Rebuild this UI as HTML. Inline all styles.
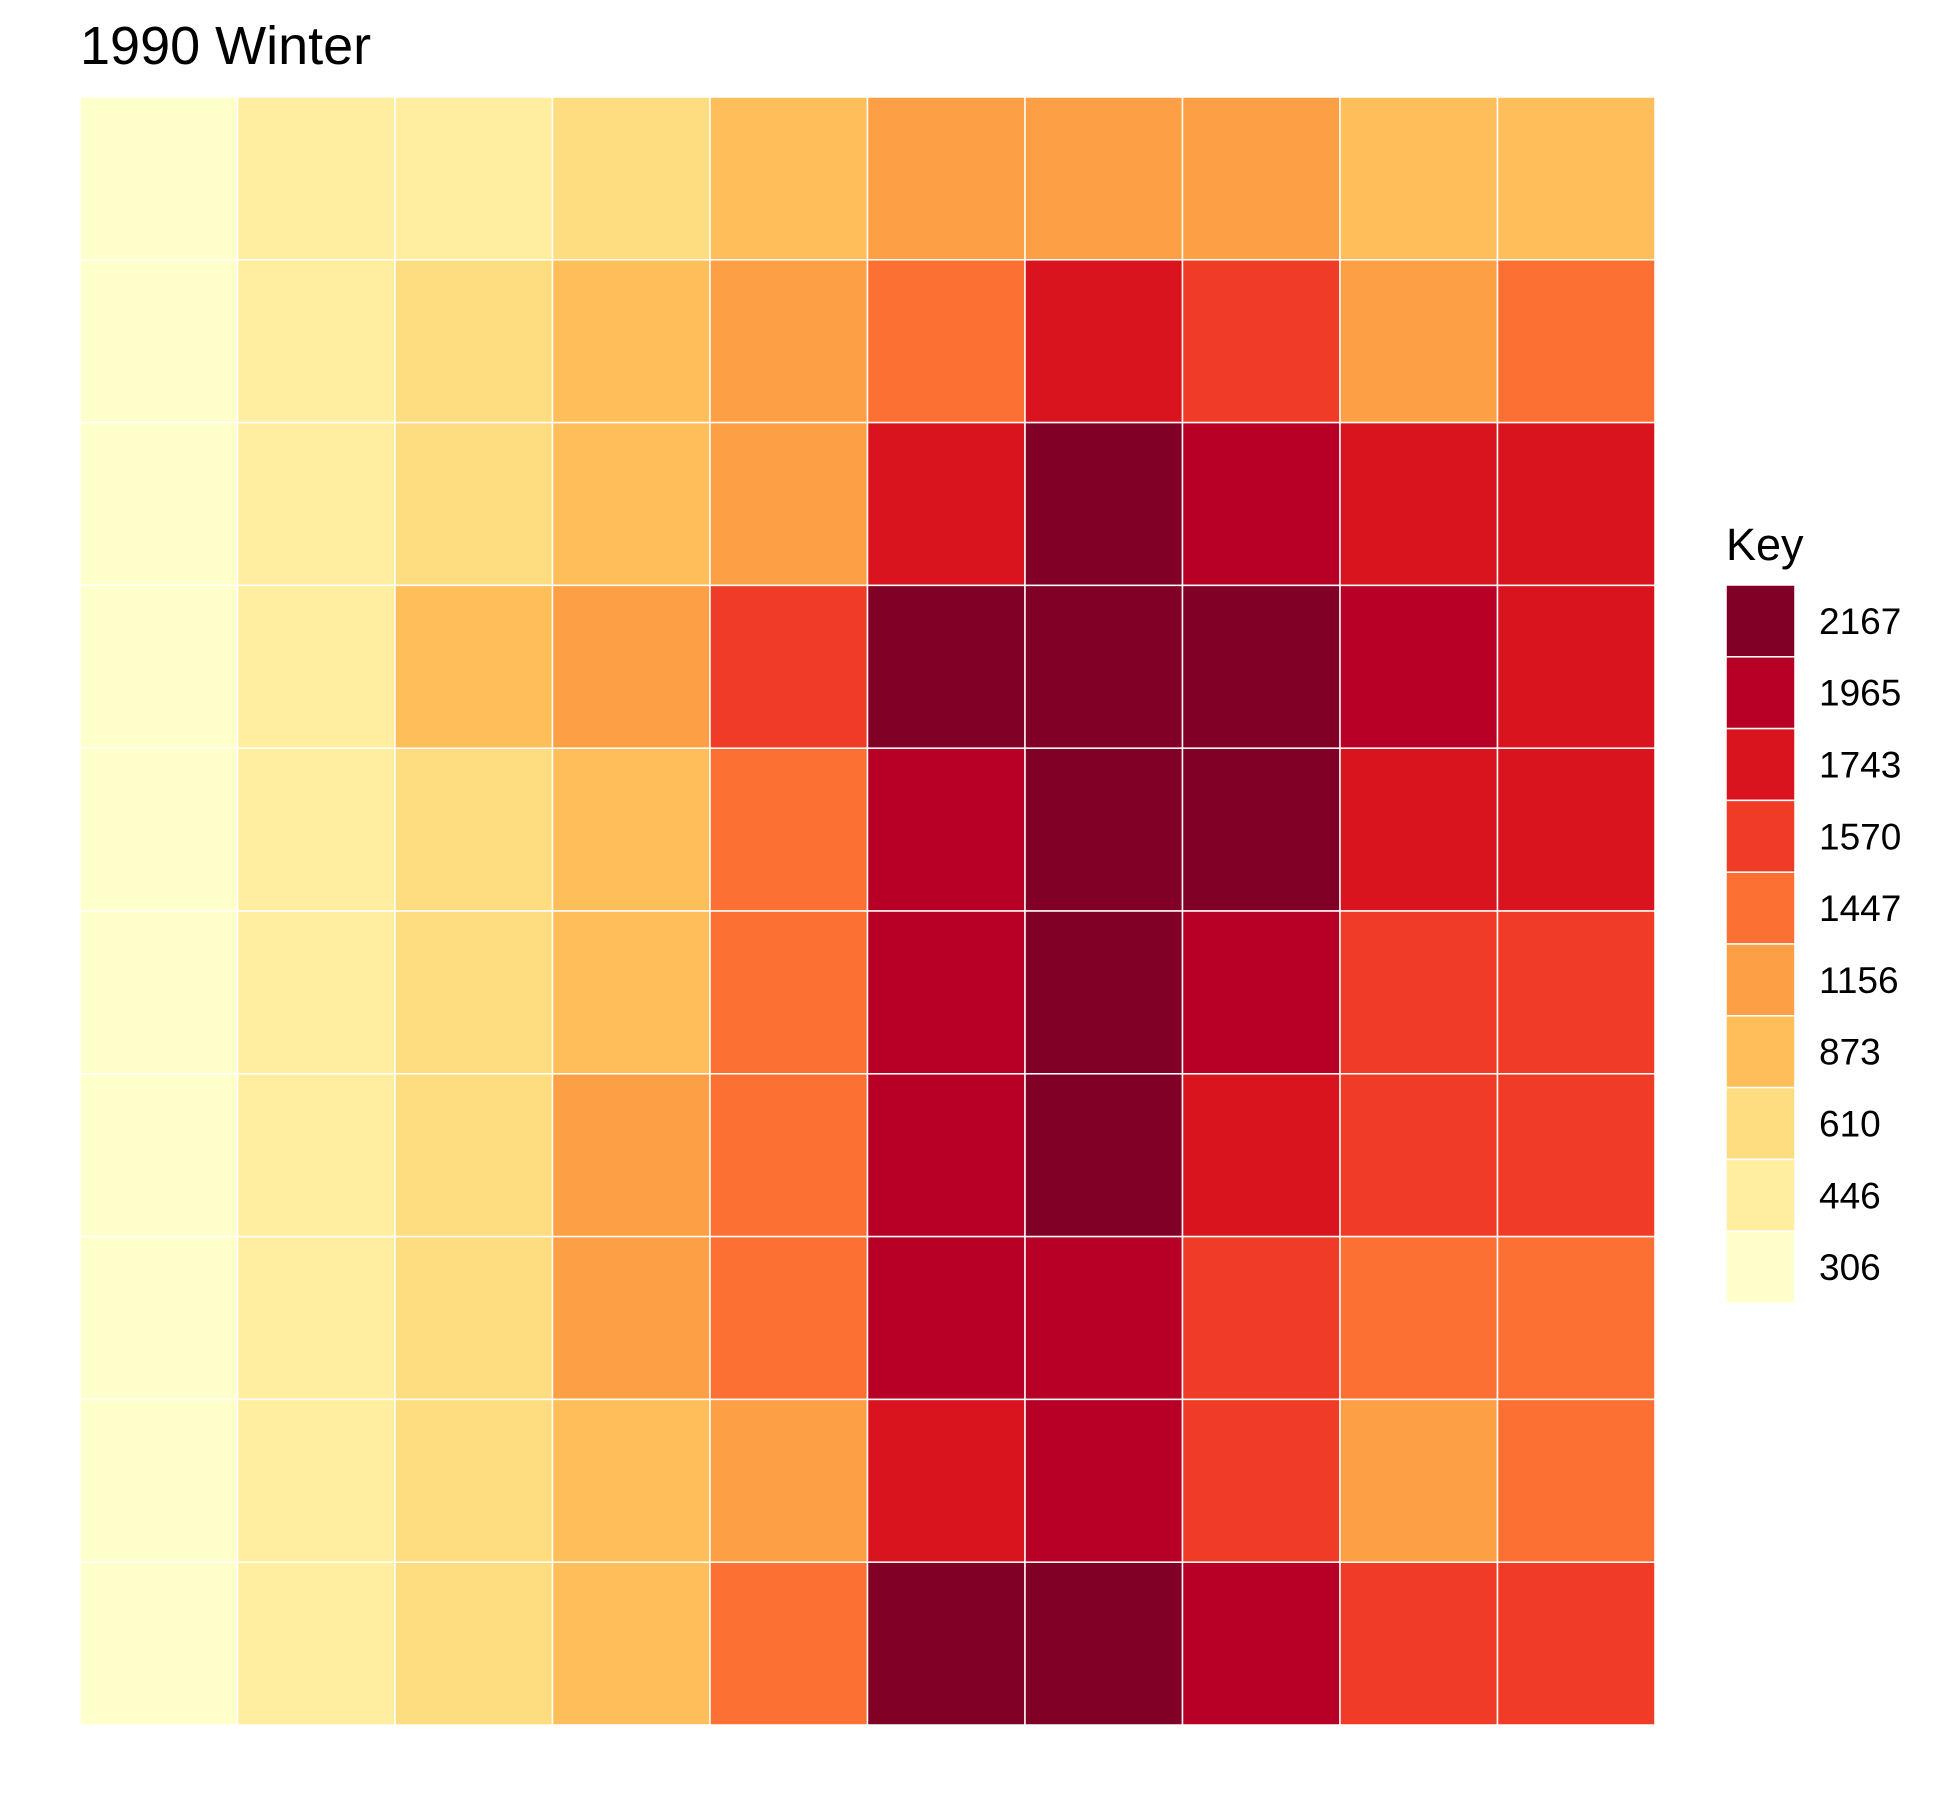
<!DOCTYPE html>
<html>
<head>
<meta charset="utf-8">
<style>
html,body{margin:0;padding:0;background:#fff;}
svg{display:block;}
text{font-family:"Liberation Sans",Arial,sans-serif;fill:#000;}
</style>
</head>
<body>
<svg id="chart" width="1949" height="1803" viewBox="0 0 1949 1803">
<text x="80" y="64" font-size="54">1990 Winter</text>
<g id="cells"></g>
<g id="legend">
<text x="1726" y="560" font-size="45">Key</text>
</g>
</svg>
<script>
const legendValues = [306, 446, 610, 873, 1156, 1447, 1570, 1743, 1965, 2167];
const legendColors = ["#FFFFCC","#FFEDA0","#FEDC80","#FEBF5A","#FD9F44","#FC7034","#F03C26","#DA141E","#B80026","#800026"];
const gridValues = [
 [306,446,446,610,873,1156,1156,1156,873,873],
 [306,446,610,873,1156,1447,1743,1570,1156,1447],
 [306,446,610,873,1156,1743,2167,1965,1743,1743],
 [306,446,873,1156,1570,2167,2167,2167,1965,1743],
 [306,446,610,873,1447,1965,2167,2167,1743,1743],
 [306,446,610,873,1447,1965,2167,1965,1570,1570],
 [306,446,610,1156,1447,1965,2167,1743,1570,1570],
 [306,446,610,1156,1447,1965,1965,1570,1447,1447],
 [306,446,610,873,1156,1743,1965,1570,1156,1447],
 [306,446,610,873,1447,2167,2167,1965,1570,1570]
];
const NS = "http://www.w3.org/2000/svg";
const x0 = 80, x1 = 1655, y0 = 97, y1 = 1725;
const nCols = gridValues[0].length, nRows = gridValues.length;
const cw = (x1 - x0) / nCols, ch = (y1 - y0) / nRows;
function xPos(c){ return x0 + c * cw; }
function yPos(r){ return y0 + r * ch; }
function colorFor(v){
  let idx = 0;
  for (let i = 0; i < legendValues.length; i++) if (v >= legendValues[i]) idx = i;
  return legendColors[idx];
}
const cells = document.getElementById('cells');
gridValues.forEach((row, r) => {
  row.forEach((v, c) => {
    const rect = document.createElementNS(NS, 'rect');
    rect.setAttribute('x', xPos(c));
    rect.setAttribute('y', yPos(r));
    rect.setAttribute('width', cw);
    rect.setAttribute('height', ch);
    rect.setAttribute('fill', colorFor(v));
    rect.setAttribute('stroke', '#fff');
    rect.setAttribute('stroke-width', '1.5');
    
    
    cells.appendChild(rect);
  });
});
const legend = document.getElementById('legend');
const ly0 = 585, lh = 71.8, lx = 1726, lw = 69;
for (let i = 0; i < legendValues.length; i++) {
  const k = legendValues.length - 1 - i;
  const rect = document.createElementNS(NS, 'rect');
  rect.setAttribute('x', lx);
  rect.setAttribute('y', ly0 + i * lh);
  rect.setAttribute('width', lw);
  rect.setAttribute('height', lh);
  rect.setAttribute('fill', legendColors[k]);
  rect.setAttribute('stroke', '#fff');
  rect.setAttribute('stroke-width', '1.5');
  
  
  legend.appendChild(rect);
  const t = document.createElementNS(NS, 'text');
  t.setAttribute('x', 1819);
  t.setAttribute('y', ly0 + i * lh + lh / 2 + 13);
  t.setAttribute('font-size', '37');
  t.textContent = legendValues[k];
  
  
  legend.appendChild(t);
}
</script>
</body>
</html>
